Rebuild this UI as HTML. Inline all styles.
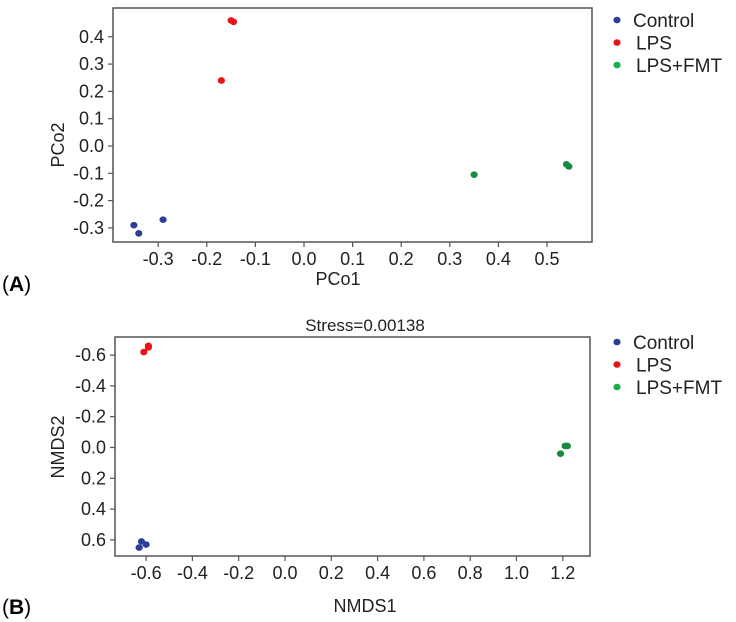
<!DOCTYPE html>
<html><head><meta charset="utf-8"><style>
body{margin:0;background:#fff;}
svg{display:block;font-family:"Liberation Sans",Arial,sans-serif;}
</style></head><body>
<svg id="c" width="736" height="622"></svg>
<script>
const groups=["Control","LPS","LPS+FMT"];
const groupColors=["#2b3f97","#e8141a","#168a3e"];
const pcoX=[[-0.35,-0.34,-0.29],[-0.15,-0.145,-0.17],[0.35,0.54,0.545]];
const pcoY=[[-0.29,-0.32,-0.27],[0.46,0.455,0.24],[-0.105,-0.067,-0.075]];
const pcoXTicks=[-0.3,-0.2,-0.1,0.0,0.1,0.2,0.3,0.4,0.5];
const pcoYTicks=[0.4,0.3,0.2,0.1,0.0,-0.1,-0.2,-0.3];
const nmdsX=[[-0.62,-0.63,-0.6],[-0.61,-0.59,-0.59],[1.19,1.21,1.22]];
const nmdsY=[[0.61,0.65,0.63],[-0.62,-0.66,-0.65],[0.04,-0.01,-0.01]];
const nmdsXTicks=[-0.6,-0.4,-0.2,0.0,0.2,0.4,0.6,0.8,1.0,1.2];
const nmdsYTicks=[-0.6,-0.4,-0.2,0.0,0.2,0.4,0.6];
const NS="http://www.w3.org/2000/svg";
const svg=document.getElementById('c');
function mk(t,a,p){const e=document.createElementNS(NS,t);for(const k in a)e.setAttribute(k,a[k]);(p||svg).appendChild(e);return e;}
function fmt(v){return (Math.abs(v)<1e-9?0:v).toFixed(1);}
function panel(cfg){
  const g=mk('g',{});
  
  
  const sx=v=>cfg.x0+(v-cfg.xa)*cfg.xs, sy=v=>cfg.y0+(v-cfg.ya)*cfg.ys;
  const box=mk('rect',{x:cfg.L,y:cfg.T,width:cfg.R-cfg.L,height:cfg.B-cfg.T,fill:'none',stroke:'#555','stroke-width':1.5},g);
  
  
  cfg.xt.forEach(v=>{const x=sx(v);
    mk('line',{x1:x,x2:x,y1:cfg.B,y2:cfg.B+5,stroke:'#555','stroke-width':1.2},g);
    const t=mk('text',{x:x,y:cfg.B+23,'text-anchor':'middle','font-size':18,fill:'#222'},g);t.textContent=fmt(v);
    
    });
  cfg.yt.forEach(v=>{const y=sy(v);
    mk('line',{x1:cfg.L-5,x2:cfg.L,y1:y,y2:y,stroke:'#555','stroke-width':1.2},g);
    const t=mk('text',{x:cfg.L-9,y:y+6,'text-anchor':'end','font-size':18,fill:'#222'},g);t.textContent=fmt(v);
    
    });
  cfg.px.forEach((arr,gi)=>arr.forEach((v,i)=>{
    const c=mk('ellipse',{cx:sx(v),cy:sy(cfg.py[gi][i]),rx:3.6,ry:3.3,fill:groupColors[gi]},g);
    
    }));
  const xl=mk('text',{x:cfg.xlx,y:cfg.xly,'text-anchor':'middle','font-size':18,fill:'#222'},g);xl.textContent=cfg.xlab;
  
  
  const yl=mk('text',{x:0,y:0,'text-anchor':'middle','font-size':18,fill:'#222',transform:`translate(${cfg.ylx},${cfg.yly}) rotate(-90)`},g);yl.textContent=cfg.ylab;
  
  
  const pl=mk('text',{x:2,y:cfg.ply,'font-size':21,fill:'#000'},g);
  pl.innerHTML='(<tspan font-weight="bold">'+cfg.pl+'</tspan>)';
  
  
  groups.forEach((n,i)=>{const y=cfg.legY+i*22.5;
    const lg=mk('g',{},g);
    
    
    mk('ellipse',{cx:617,cy:y,rx:3.6,ry:3.3,fill:i==2?'#19b04a':groupColors[i]},lg);
    const t=mk('text',{x:i==0?633:636,y:y+7,'font-size':19,fill:'#222'},lg);t.textContent=n;});
}
panel({name:'pcoa-panel',L:113,R:592,T:8,B:242,x0:304,xa:0,xs:486,y0:146,ya:0,ys:-273,
  xt:pcoXTicks,yt:pcoYTicks,px:pcoX,py:pcoY,xlab:'PCo1',xlx:338,xly:285,ylab:'PCo2',ylx:64,yly:145,pl:'A',ply:291,legY:20});
panel({name:'nmds-panel',L:115,R:590,T:337,B:556,x0:285,xa:0,xs:231.5,y0:447.5,ya:0,ys:154,
  xt:nmdsXTicks,yt:nmdsYTicks,px:nmdsX,py:nmdsY,xlab:'NMDS1',xlx:365,xly:612,ylab:'NMDS2',ylx:64,yly:447,pl:'B',ply:614,legY:342});
const st=mk('text',{x:365,y:331,'text-anchor':'middle','font-size':17,fill:'#222'});st.textContent='Stress=0.00138';


</script>
</body></html>
